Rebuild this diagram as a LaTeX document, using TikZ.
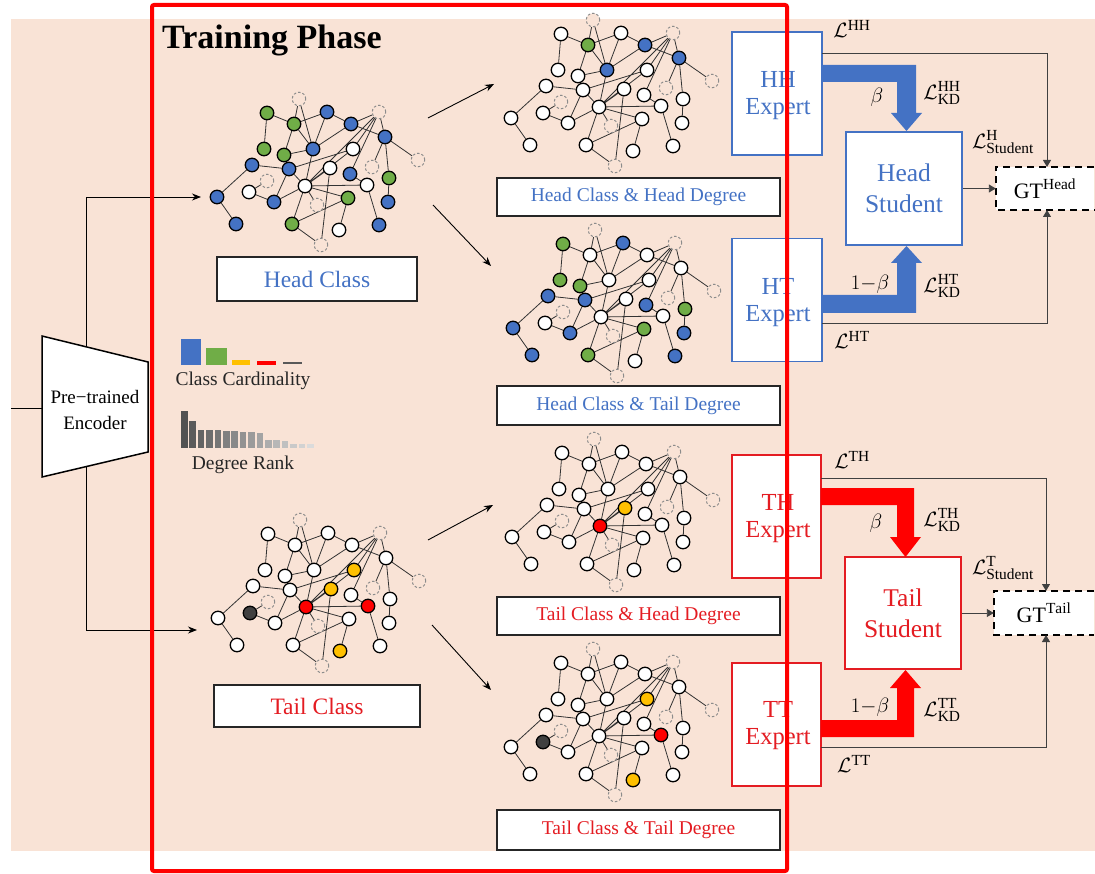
\documentclass[tikz,border=0pt]{standalone}
\usepackage{fontspec}
\setmainfont{Liberation Serif}
\usetikzlibrary{arrows.meta,calc}
\definecolor{peach}{RGB}{249,227,214}
\definecolor{hblue}{RGB}{68,114,196}
\definecolor{hgreen}{RGB}{112,173,71}
\definecolor{hyellow}{RGB}{255,192,0}
\definecolor{nred}{RGB}{255,0,0}
\definecolor{ndark}{RGB}{64,64,64}
\definecolor{tred}{RGB}{228,28,34}
\pgfdeclarelayer{back}
\pgfdeclarelayer{edges}
\pgfsetlayers{back,edges,main}
\tikzset{
 gn/.style={circle,draw=black,line width=1.3pt,fill=white,minimum size=13.5pt,inner sep=0pt},
 gd/.style={circle,draw=black!45,dash pattern=on 2.5pt off 2pt,line width=1pt,fill=peach,minimum size=13.5pt,inner sep=0pt},
 ge/.style={draw=black!80,line width=0.8pt},
 lab/.style={draw=black!85,line width=1.6pt,fill=white,inner sep=0pt},
 bexp/.style={draw=hblue,line width=1.4pt,fill=white,inner sep=0pt},
 rexp/.style={draw=tred,line width=1.4pt,fill=white,inner sep=0pt},
 thinl/.style={draw=black!75,line width=0.9pt},
 arr/.style={draw=black,line width=0.9pt,-{Stealth[length=9pt,width=7pt]}},
 gtarr/.style={-{Triangle[length=7pt,width=8pt]}},
 ml/.style={font=\fontsize{22}{24}\selectfont,inner sep=0pt},
 colA/.style={kg1/.style={fill=hgreen},kb1/.style={fill=hblue},kg2/.style={fill=hgreen},kb2/.style={fill=hblue},
   kb3/.style={fill=hblue},kg3/.style={fill=hgreen},kg4/.style={fill=hgreen},kb4/.style={fill=hblue},
   kb5/.style={fill=hblue},kb6/.style={fill=hblue},kb7/.style={fill=hblue},kg5/.style={fill=hgreen},
   kb8/.style={fill=hblue},kb9/.style={fill=hblue},kg6/.style={fill=hgreen},kb10/.style={fill=hblue},
   kb11/.style={fill=hblue},kg7/.style={fill=hgreen},kb12/.style={fill=hblue}},
 colB/.style={kg2/.style={fill=hgreen},kb2/.style={fill=hblue},kb3/.style={fill=hblue},kb4/.style={fill=hblue}},
 colC/.style={kg1/.style={fill=hgreen},kb1/.style={fill=hblue},kg3/.style={fill=hgreen},kg4/.style={fill=hgreen},
   kb5/.style={fill=hblue},kb6/.style={fill=hblue},kb7/.style={fill=hblue},kg5/.style={fill=hgreen},
   kb8/.style={fill=hblue},kb9/.style={fill=hblue},kg6/.style={fill=hgreen},kb10/.style={fill=hblue},
   kb11/.style={fill=hblue},kg7/.style={fill=hgreen},kb12/.style={fill=hblue}},
 colD/.style={kc/.style={fill=nred},kw4/.style={fill=nred},kw1/.style={fill=hyellow},kw2/.style={fill=hyellow},
   kw5/.style={fill=hyellow},kw3/.style={fill=ndark}},
 colE/.style={kc/.style={fill=nred},kw2/.style={fill=hyellow}},
 colF/.style={kw3/.style={fill=ndark},kw1/.style={fill=hyellow},kw4/.style={fill=nred},kw5/.style={fill=hyellow}},
}
\newcommand{\graphdraw}[3]{%
\begin{scope}[shift={#2},#3]
\node[gd] (#1n1) at (299,99) {};
\node[gn,kg1/.try] (#1g1) at (267,113) {};
\node[gn,kb1/.try] (#1b1) at (327,112) {};
\node[gn,kg2/.try] (#1g2) at (294,124) {};
\node[gn,kb2/.try] (#1b2) at (351,124) {};
\node[gd] (#1d2) at (379,112) {};
\node[gn,kb3/.try] (#1b3) at (385,137) {};
\node[gn,kg3/.try] (#1g3) at (264,149) {};
\node[gn,kg4/.try] (#1g4) at (284,155) {};
\node[gn,kb4/.try] (#1b4) at (313,149) {};
\node[gn,kw1/.try] (#1w1) at (353,149) {};
\node[gd] (#1d3) at (418,160) {};
\node[gn,kb5/.try] (#1b5) at (252,165) {};
\node[gn,kb6/.try] (#1b6) at (289,169) {};
\node[gn,kw2/.try] (#1w2) at (330,168) {};
\node[gd] (#1d4) at (372,167) {};
\node[gn,kb7/.try] (#1b7) at (350,174) {};
\node[gn,kg5/.try] (#1g5) at (389,178) {};
\node[gd] (#1d5) at (267,181) {};
\node[gn,kw3/.try] (#1w3) at (249,192) {};
\node[gn,kc/.try] (#1c) at (305,186) {};
\node[gn,kw4/.try] (#1w4) at (367,185) {};
\node[gn,kb8/.try] (#1b8) at (217,197) {};
\node[gn,kb9/.try] (#1b9) at (274,202) {};
\node[gd] (#1d6) at (317,205) {};
\node[gn,kg6/.try] (#1g6) at (348,198) {};
\node[gn,kb10/.try] (#1b10) at (388,202) {};
\node[gn,kb11/.try] (#1b11) at (236,224) {};
\node[gn,kg7/.try] (#1g7) at (292,224) {};
\node[gn,kw5/.try] (#1w5) at (339,230) {};
\node[gn,kb12/.try] (#1b12) at (379,225) {};
\node[gd] (#1d7) at (321,245) {};
\begin{pgfonlayer}{edges}
\draw[ge] (#1n1)--(#1g2) (#1n1)--(#1b4)
 (#1g1)--(#1g2) (#1g1)--(#1g3)
 (#1g2)--(#1b1) (#1g2)--(#1g4) (#1g2)--(#1b4)
 (#1b1)--(#1b4) (#1b1)--(#1b2)
 (#1b2)--(#1b3) (#1b2)--(#1d2) (#1b2)--(#1b4)
 (#1d2)--(#1b3) (#1d2)--(#1c) (#1d2)--(#1b7) (#1d2)--(#1w1)
 (#1b3)--(#1d4) (#1b3)--(#1g5) (#1b3)--(#1d3)
 (#1g5)--(#1b10)
 (#1b4)--(#1c) (#1g4)--(#1b4)
 (#1b6)--(#1w1)
 (#1b5)--(#1b6) (#1b5)--(#1b8) (#1b8)--(#1b11)
 (#1w3)--(#1d5) (#1w3)--(#1b9) (#1b9)--(#1b6) (#1b9)--(#1c) (#1b6)--(#1c)
 (#1c)--(#1w2) (#1c)--(#1w1) (#1c)--(#1w4) (#1c)--(#1g6) (#1c)--(#1d6) (#1c)--(#1g7)
 (#1w2)--(#1d7)
 (#1w4)--(#1b12) (#1w4)--(#1b7)
 (#1g6)--(#1g7) (#1g6)--(#1w5)
 (#1g7)--(#1d7);
\end{pgfonlayer}
\end{scope}}
\begin{document}
\begin{tikzpicture}[x=1pt,y=-1pt]
\useasboundingbox (0,0) rectangle (1095,874);
\begin{pgfonlayer}{back}
\fill[peach] (11,19) rectangle (1095,851);
\end{pgfonlayer}

% title
\node[anchor=west,inner sep=0pt,font=\bfseries\fontsize{34}{38}\selectfont] (title) at (162,40) {Training Phase};

% graphs
\graphdraw{A}{(0,0)}{colA}
\graphdraw{B}{(294,-79)}{colB}
\graphdraw{C}{(296,131)}{colC}
\graphdraw{D}{(1,421)}{colD}
\graphdraw{E}{(295,340)}{colE}
\graphdraw{F}{(294,550)}{colF}

% label boxes
\node[lab,minimum width=200pt,minimum height=44pt,text=hblue,font=\fontsize{23.5}{26}\selectfont] (lhc) at (317,279) {Head Class};
\node[lab,minimum width=283pt,minimum height=38pt,text=hblue,font=\fontsize{19.5}{22}\selectfont] (lhh) at (638.5,197) {Head Class \& Head Degree};
\node[lab,minimum width=283pt,minimum height=39pt,text=hblue,font=\fontsize{19.5}{22}\selectfont] (lht) at (638.5,405.5) {Head Class \& Tail Degree};
\node[lab,minimum width=206pt,minimum height=42pt,text=tred,font=\fontsize{23.5}{26}\selectfont] (ltc) at (317,706) {Tail Class};
\node[lab,minimum width=283pt,minimum height=38pt,text=tred,font=\fontsize{19.5}{22}\selectfont] (lth) at (638.5,616) {Tail Class \& Head Degree};
\node[lab,minimum width=283pt,minimum height=40pt,text=tred,font=\fontsize{19.5}{22}\selectfont] (ltt) at (638.5,830) {Tail Class \& Tail Degree};

% arrows between graphs
\coordinate (a1s) at (428,118); \coordinate (a1e) at (494,84);
\coordinate (a2s) at (433,205); \coordinate (a2e) at (491,266);
\coordinate (a3s) at (428,540); \coordinate (a3e) at (493,505);
\coordinate (a4s) at (432,625); \coordinate (a4e) at (491,690);
\draw[arr] (a1s)--(a1e);
\draw[arr] (a2s)--(a2e);
\draw[arr] (a3s)--(a3e);
\draw[arr] (a4s)--(a4e);

% encoder
\coordinate (e1) at (42,336); \coordinate (e2) at (148,362);
\coordinate (e3) at (148,452); \coordinate (e4) at (42,477);
\draw[line width=1.5pt,fill=white] (e1)--(e2)--(e3)--(e4)--cycle;
\node[align=center,inner sep=0pt,font=\fontsize{19}{26}\selectfont] (enc) at (95,410) {Pre−trained\\Encoder};
\coordinate (ein) at (11,408); \coordinate (eleft) at (42,408);
\draw[line width=0.9pt] (ein)--(eleft);
\coordinate (etop) at (86,347); \coordinate (ebot) at (86,467);
\coordinate (g1in) at (201,197); \coordinate (g4in) at (197,630);
\draw[arr] (etop) |- (g1in);
\draw[arr] (ebot) |- (g4in);

% legend: class cardinality
\fill[hblue] (181,339) rectangle (201,365);
\fill[hgreen] (206,348) rectangle (227,365);
\fill[hyellow] (232,360) rectangle (250,365);
\fill[nred] (257,361) rectangle (276,365);
\fill[black!65] (283,362) rectangle (302,364.5);
\node[inner sep=0pt,text=black!85,font=\fontsize{19.5}{22}\selectfont] (cc) at (243,381) {Class Cardinality};
% legend: degree rank
\foreach \t [count=\i from 0] in {411,421,430,430,430,431,431,432,432,433,440,440,441,444,444,444} {
  \pgfmathsetmacro\xx{181+8.4*\i}
  \pgfmathsetmacro\gg{68-3.6*\i}
  \fill[black!\gg] (\xx,\t) rectangle (\xx+6.5,448);
}
\node[inner sep=0pt,text=black!85,font=\fontsize{19.5}{22}\selectfont] (dr) at (243,465) {Degree Rank};

% ---------- head side ----------
\node[bexp,minimum width=90pt,minimum height=123pt] (HH) at (777,93.5) {};
\node[text=hblue,align=center,inner sep=0pt,font=\fontsize{24.5}{27}\selectfont] (HHt) at (778,96) {HH\\Expert};
\node[bexp,minimum width=90pt,minimum height=123pt] (HT) at (777,300) {};
\node[text=hblue,align=center,inner sep=0pt,font=\fontsize{24.5}{27}\selectfont] (HTt) at (778,303) {HT\\Expert};
\node[bexp,minimum width=116pt,minimum height=113pt,text=hblue,align=center,font=\fontsize{25.5}{31}\selectfont] (HS) at (904,188.5) {Head\\Student};
\node[fill=white,minimum width=98pt,minimum height=43pt,inner sep=0pt,font=\fontsize{22}{24}\selectfont] (GTH) at (1045,188.5) {$\mathrm{GT}^{\mathrm{Head}}$};
\draw[line width=2.2pt,dash pattern=on 7pt off 5pt] (GTH.north east)--(GTH.north west)--(GTH.south west)--(GTH.south east);

\fill[hblue] (822,65)--(916,65)--(916,113)--(922,113)--(906.5,131)--(891,113)--(897,113)--(897,82)--(822,82)--cycle;
\fill[hblue] (822,313)--(916,313)--(916,263)--(922,263)--(906.5,246)--(891,263)--(897,263)--(897,295)--(822,295)--cycle;

\coordinate (hhl) at (822,53); \coordinate (gthtop) at (1047,167);
\coordinate (htl) at (822,323); \coordinate (gthbot) at (1047,210);
\draw[thinl,gtarr] (hhl) -| (gthtop);
\draw[thinl,gtarr] (htl) -| (gthbot);
\draw[thinl,gtarr] (HS.east)--(GTH.west);

\node[ml] (Lhh) at (852,29) {$\mathcal{L}^{\mathrm{HH}}$};
\node[ml] (bh1) at (877,97) {$\beta$};
\node[ml] (Lkdhh) at (942,93) {$\mathcal{L}^{\mathrm{HH}}_{\mathrm{KD}}$};
\node[ml] (Lsh) at (1003,142) {$\mathcal{L}^{\mathrm{H}}_{\mathrm{Student}}$};
\node[ml] (bh2) at (870,284) {$1{-}\beta$};
\node[ml] (Lkdht) at (942,286) {$\mathcal{L}^{\mathrm{HT}}_{\mathrm{KD}}$};
\node[ml] (Lht) at (852,340) {$\mathcal{L}^{\mathrm{HT}}$};

% ---------- tail side ----------
\node[rexp,minimum width=89pt,minimum height=123pt] (TH) at (776.5,516.5) {};
\node[text=tred,align=center,inner sep=0pt,font=\fontsize{24.5}{27}\selectfont] (THt) at (778,519) {TH\\Expert};
\node[rexp,minimum width=89pt,minimum height=123pt] (TT) at (776.5,724.5) {};
\node[text=tred,align=center,inner sep=0pt,font=\fontsize{24.5}{27}\selectfont] (TTt) at (778,726) {TT\\Expert};
\node[rexp,minimum width=116pt,minimum height=112pt,text=tred,align=center,font=\fontsize{25.5}{31}\selectfont] (TS) at (903,613) {Tail\\Student};
\node[fill=white,minimum width=100pt,minimum height=44pt,inner sep=0pt,font=\fontsize{22}{24}\selectfont] (GTT) at (1044,613) {$\mathrm{GT}^{\mathrm{Tail}}$};
\draw[line width=2.2pt,dash pattern=on 7pt off 5pt] (GTT.north east)--(GTT.north west)--(GTT.south west)--(GTT.south east);

\fill[nred] (821,488)--(914,488)--(914,537)--(921,537)--(905.5,557)--(890,537)--(897,537)--(897,505)--(821,505)--cycle;
\fill[nred] (821,737)--(914,737)--(914,688)--(921,688)--(905.5,670)--(890,688)--(897,688)--(897,720)--(821,720)--cycle;

\coordinate (thl) at (821,478); \coordinate (gtttop) at (1046,591);
\coordinate (ttl) at (821,747); \coordinate (gttbot) at (1046,635);
\draw[thinl,gtarr] (thl) -| (gtttop);
\draw[thinl,gtarr] (ttl) -| (gttbot);
\draw[thinl,gtarr] (TS.east)--(GTT.west);

\node[ml] (Lth) at (852,460) {$\mathcal{L}^{\mathrm{TH}}$};
\node[ml] (bt1) at (876,523) {$\beta$};
\node[ml] (Lkdth) at (942,520) {$\mathcal{L}^{\mathrm{TH}}_{\mathrm{KD}}$};
\node[ml] (Lst) at (1003,568) {$\mathcal{L}^{\mathrm{T}}_{\mathrm{Student}}$};
\node[ml] (bt2) at (870,707) {$1{-}\beta$};
\node[ml] (Lkdtt) at (942,710) {$\mathcal{L}^{\mathrm{TT}}_{\mathrm{KD}}$};
\node[ml] (Ltt) at (854,764) {$\mathcal{L}^{\mathrm{TT}}$};

% red frame
\draw[nred,line width=4pt,rounded corners=2pt] (152,5) rectangle (787,871);
\end{tikzpicture}
\end{document}
